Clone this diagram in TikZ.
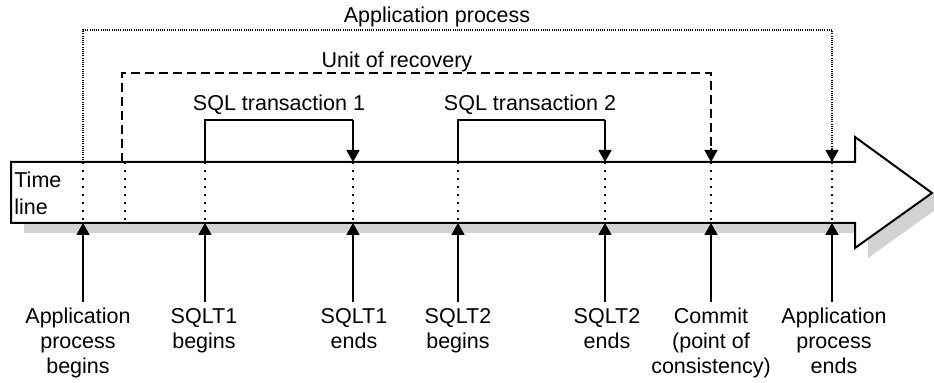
\documentclass[tikz,border=0pt]{standalone}
\usepackage{fontspec}
\setmainfont{Liberation Sans}
\usetikzlibrary{arrows.meta,positioning,calc}

\newcommand{\tlshape}{(11,162) -- (855,162) -- (855,137) -- (932,193) -- (855,248) -- (855,223) -- (11,223) -- cycle}

\begin{document}
\begin{tikzpicture}[x=0.5pt, y=-0.5pt,
  every node/.style={font=\fontsize{10.75}{12.3}\selectfont},
  tick/.style={-{Triangle[width=6.5pt,length=6pt]}, line width=0.9pt},
  evlabel/.style={align=center, inner sep=3pt, anchor=north},
  inner dots/.style={line width=1pt, dash pattern=on 1pt off 3pt},
  span solid/.style={line width=0.9pt},
  span dashed/.style={line width=0.8pt, dash pattern=on 4.5pt off 2.5pt},
  span dotted/.style={line width=0.6pt, dash pattern=on 0.5pt off 0.6pt}]
  \useasboundingbox (0,0) rectangle (934,383);

  % time line arrow with its shadow
  \fill[gray!35] [shift={(13,10)}] \tlshape;
  \draw[line width=1pt, fill=white] \tlshape;
  \node[align=left, anchor=north west, inner sep=0pt, font=\fontsize{10.75}{13.5}\selectfont] (tl) at (14,172) {Time\\line};

  % event points on the time line
  \coordinate (apbT) at (83,162);  \coordinate (apbB) at (83,223);
  \coordinate (urbT) at (125,162); \coordinate (urbB) at (125,223);
  \coordinate (t1bT) at (205,162); \coordinate (t1bB) at (205,223);
  \coordinate (t1eT) at (353,162); \coordinate (t1eB) at (353,223);
  \coordinate (t2bT) at (458,162); \coordinate (t2bB) at (458,223);
  \coordinate (t2eT) at (605,162); \coordinate (t2eB) at (605,223);
  \coordinate (cmT) at (711,162);  \coordinate (cmB) at (711,223);
  \coordinate (apeT) at (832,162); \coordinate (apeB) at (832,223);
  \foreach \n in {apb, urb, t1b, t1e, t2b, t2e, cm, ape}
    \draw[inner dots] (\n T) -- (\n B);

  % spans above the time line
  \coordinate (ap1) at (83,30);  \coordinate (ap2) at (832,30);
  \coordinate (ur0) at (122,162); \coordinate (ur1) at (122,73); \coordinate (ur2) at (711,73);
  \coordinate (s11) at (205,120); \coordinate (s12) at (353,120);
  \coordinate (s21) at (458,120); \coordinate (s22) at (605,120);

  \draw[span dotted] (apbT) -- (ap1) -- (ap2) -- (apeT);
  \draw[-{Triangle[width=6.5pt,length=6pt]}, line width=0.6pt] ($(apeT)+(0,-14)$) -- (apeT);
  \draw[span dashed] (ur0) -- (ur1) -- (ur2) -- ($(cmT)+(0,-14)$);
  \draw[-{Triangle[width=6.5pt,length=6pt]}, line width=0.8pt] ($(cmT)+(0,-14)$) -- (cmT);
  \draw[span solid] (t1bT) -- (s11) -- (s12);
  \draw[tick] (s12) -- (t1eT);
  \draw[span solid] (t2bT) -- (s21) -- (s22);
  \draw[tick] (s22) -- (t2eT);

  \node[anchor=base] (aplab) at (437,23) {Application process};
  \node[anchor=base] (urlab) at (397,68) {Unit of recovery};
  \node[anchor=base] (t1lab) at (279,111) {SQL transaction 1};
  \node[anchor=base] (t2lab) at (530,111) {SQL transaction 2};

  % events below the time line
  \node[evlabel] (l1) at (78,302) {Application\\process\\begins};
  \node[evlabel] (l2) at (204,302) {SQLT1\\begins};
  \node[evlabel] (l3) at (354,302) {SQLT1\\ends};
  \node[evlabel] (l4) at (458,302) {SQLT2\\begins};
  \node[evlabel] (l5) at (607,302) {SQLT2\\ends};
  \node[evlabel] (l6) at (711,302) {Commit\\(point of\\consistency)};
  \node[evlabel] (l7) at (834,302) {Application\\process\\ends};

  \draw[tick] (l1.north -| apbB) -- (apbB);
  \draw[tick] (l2.north -| t1bB) -- (t1bB);
  \draw[tick] (l3.north -| t1eB) -- (t1eB);
  \draw[tick] (l4.north -| t2bB) -- (t2bB);
  \draw[tick] (l5.north -| t2eB) -- (t2eB);
  \draw[tick] (l6.north -| cmB) -- (cmB);
  \draw[tick] (l7.north -| apeB) -- (apeB);
\end{tikzpicture}
\end{document}
